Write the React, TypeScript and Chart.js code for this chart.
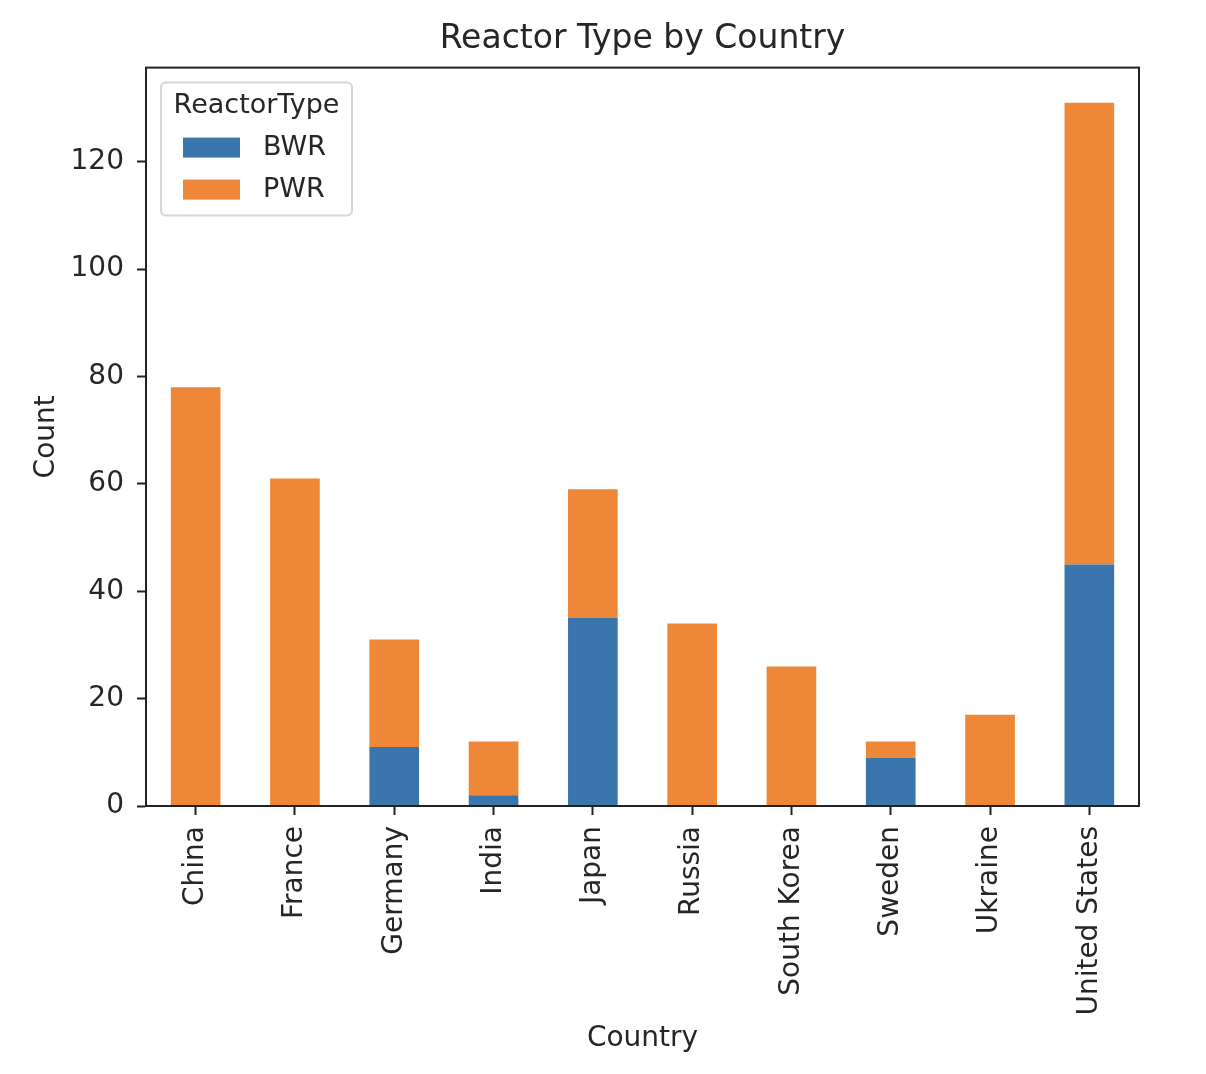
import React, { useEffect, useRef } from 'react'
import { Chart, registerables } from 'chart.js'
import type { Plugin } from 'chart.js'

Chart.register(...registerables)

const countries = [
  'China',
  'France',
  'Germany',
  'India',
  'Japan',
  'Russia',
  'South Korea',
  'Sweden',
  'Ukraine',
  'United States',
]
const bwrCounts = [0, 0, 11, 2, 35, 0, 0, 9, 0, 45]
const pwrCounts = [78, 61, 20, 10, 24, 34, 26, 3, 17, 86]
const yTicks = [0, 20, 40, 60, 80, 100, 120]
const yMax = 137.55

const FONT = 'DejaVu Sans'
const TEXT = '#262626'
const BLUE = '#3a75ae'
const ORANGE = '#ee8737'

// frame around the plot area, like matplotlib's spines
const framePlugin: Plugin<'bar'> = {
  id: 'frame',
  afterDatasetsDraw(chart) {
    const { ctx, chartArea: a } = chart
    ctx.save()
    ctx.strokeStyle = '#222'
    ctx.lineWidth = 2
    ctx.strokeRect(a.left, a.top, a.right - a.left, a.bottom - a.top)
    ctx.restore()
  },
}

// legend box with title in the upper left corner of the axes
const legendPlugin: Plugin<'bar'> = {
  id: 'mplLegend',
  afterDraw(chart) {
    const { ctx, chartArea: a } = chart
    const x = a.left + 15
    const y = a.top + 15
    const w = 191
    const h = 133
    ctx.save()
    ctx.beginPath()
    ctx.roundRect(x, y, w, h, 5)
    ctx.fillStyle = 'rgba(255,255,255,0.8)'
    ctx.fill()
    ctx.strokeStyle = '#d6d6d6'
    ctx.lineWidth = 2
    ctx.stroke()

    ctx.fillStyle = TEXT
    ctx.font = `27px "${FONT}"`
    ctx.textBaseline = 'middle'
    ctx.textAlign = 'center'
    ctx.fillText('ReactorType', x + w / 2, y + 23)

    ctx.textAlign = 'left'
    chart.data.datasets.forEach((ds, i) => {
      const rowY = y + 65 + i * 42
      ctx.fillStyle = ds.backgroundColor as string
      ctx.fillRect(x + 22, rowY - 10, 57, 20)
      ctx.fillStyle = TEXT
      ctx.fillText(ds.label ?? '', x + 102, rowY)
    })
    ctx.restore()
  },
}

export default function App() {
  const canvasRef = useRef<HTMLCanvasElement>(null)

  useEffect(() => {
    if (!canvasRef.current) return
    const chart = new Chart(canvasRef.current, {
      type: 'bar',
      data: {
        labels: countries,
        datasets: [
          { label: 'BWR', data: bwrCounts, backgroundColor: BLUE, borderWidth: 0 },
          { label: 'PWR', data: pwrCounts, backgroundColor: ORANGE, borderWidth: 0 },
        ],
      },
      options: {
        animation: false,
        responsive: true,
        maintainAspectRatio: false,
        datasets: { bar: { barPercentage: 0.5, categoryPercentage: 1 } },
        layout: { padding: { left: 0, right: 67, top: 0, bottom: 0 } },
        plugins: {
          legend: { display: false },
          tooltip: { enabled: false },
          title: {
            display: true,
            text: 'Reactor Type by Country',
            fullSize: false,
            color: TEXT,
            font: { family: FONT, size: 33, weight: 'normal', lineHeight: 1.2 },
            padding: { top: 20, bottom: 8 },
          },
        },
        scales: {
          x: {
            stacked: true,
            afterFit: (scale) => {
              scale.height = 268
            },
            grid: {
              offset: false,
              drawOnChartArea: false,
              drawTicks: true,
              tickLength: 9,
              tickColor: '#222',
              tickWidth: 2,
            },
            border: { display: true, color: '#222', width: 2 },
            ticks: {
              autoSkip: false,
              minRotation: 90,
              maxRotation: 90,
              padding: 11,
              color: TEXT,
              font: { family: FONT, size: 28 },
            },
            title: {
              display: true,
              text: 'Country',
              color: TEXT,
              font: { family: FONT, size: 28 },
              padding: { bottom: 18 },
            },
          },
          y: {
            stacked: true,
            min: 0,
            max: yMax,
            afterFit: (scale) => {
              scale.width = 146
            },
            afterBuildTicks: (scale) => {
              scale.ticks = yTicks.map((v) => ({ value: v }))
            },
            grid: {
              drawOnChartArea: false,
              drawTicks: true,
              tickLength: 9,
              tickColor: '#222',
              tickWidth: 2,
            },
            border: { display: true, color: '#222', width: 2 },
            ticks: {
              padding: 13,
              color: TEXT,
              font: { family: FONT, size: 28 },
            },
            title: {
              display: true,
              text: 'Count',
              color: TEXT,
              font: { family: FONT, size: 28 },
              padding: { top: 30 },
            },
          },
        },
      },
      plugins: [framePlugin, legendPlugin],
    })
    return () => chart.destroy()
  }, [])

  return (
    <div style={{ position: 'absolute', left: 0, top: 0, width: 1206, height: 1074, background: '#fff' }}>
      <canvas ref={canvasRef} />
    </div>
  )
}
